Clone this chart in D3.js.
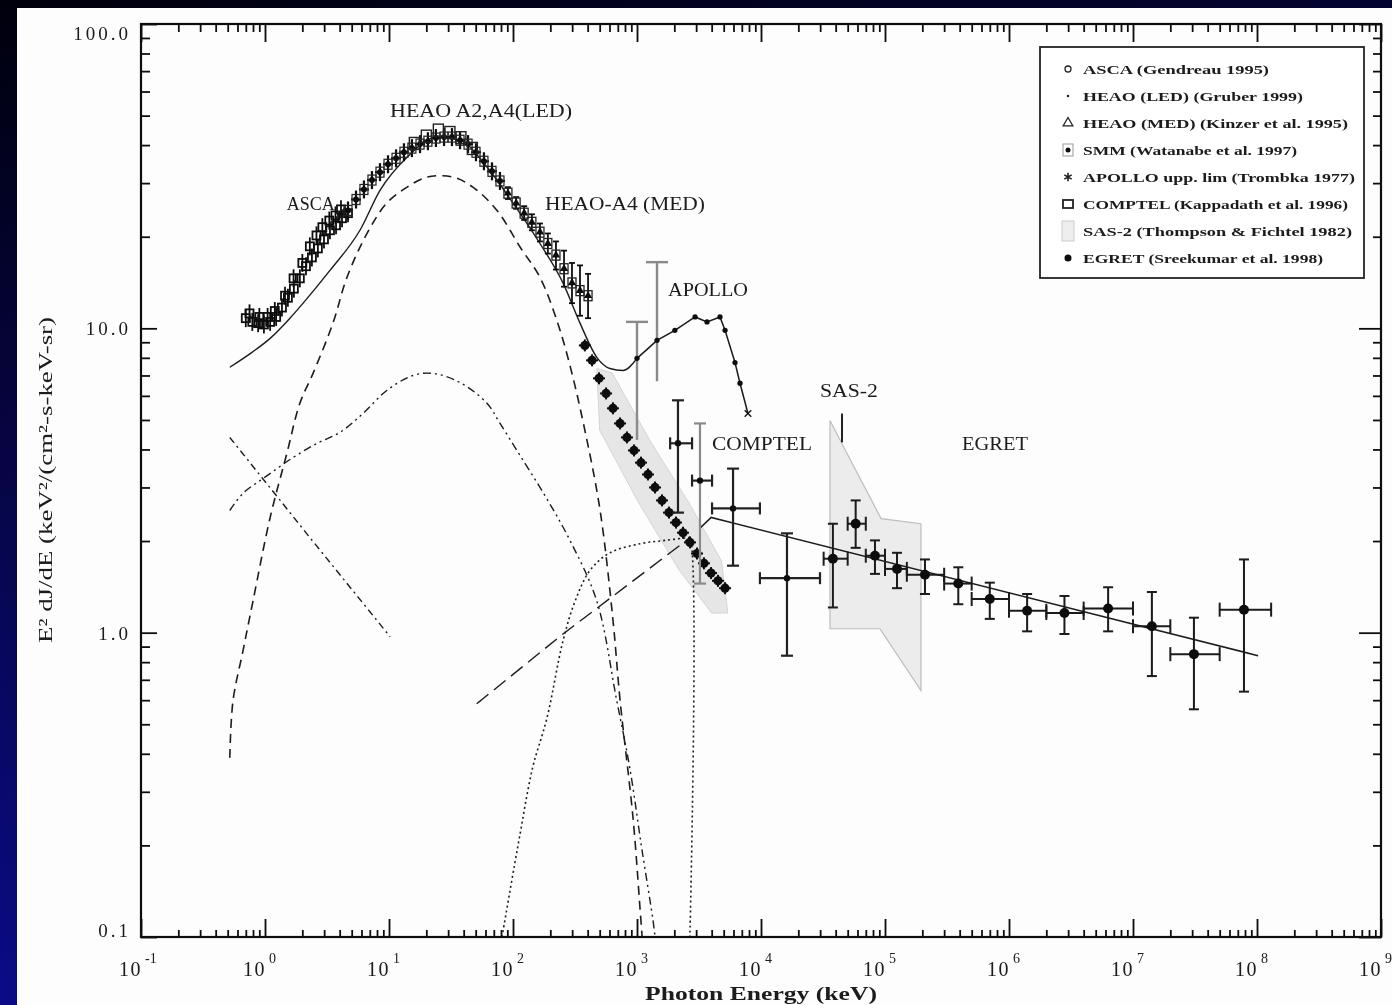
<!DOCTYPE html>
<html>
<head>
<meta charset="utf-8">
<script src="https://cdn.jsdelivr.net/npm/d3@7"></script>
<style>
  html, body { margin: 0; padding: 0; background: #000; }
  svg text { font-family: "Liberation Serif", "DejaVu Serif", serif; fill: #1a1a1a; }
</style>
</head>
<body>
<div id="chart"></div>
<script>
// ---- axis ticks / labels ----
const xMajor = [1e-1, 1e0, 1e1, 1e2, 1e3, 1e4, 1e5, 1e6, 1e7, 1e8, 1e9];
const xMajorExp = ['-1', '0', '1', '2', '3', '4', '5', '6', '7', '8', '9'];
const yMajor = [0.1, 1, 10, 100];
const yMajorLabels = ['0.1', '1.0', '10.0', '100.0'];

// ---- data (E in keV, E^2 dJ/dE) ----
const ascaE = [0.70, 0.79, 0.88, 0.98, 1.10, 1.23, 1.37, 1.53, 1.71, 1.91, 2.14, 2.39, 2.67, 2.99, 3.34, 3.74, 4.18, 4.67];
const ascaV = [10.8, 10.5, 10.4, 10.3, 10.5, 10.9, 11.7, 12.6, 13.5, 14.6, 16.0, 17.1, 18.3, 19.6, 21.0, 21.8, 23.0, 23.9];
const asca2E = [0.75, 0.90, 1.05, 1.20, 1.45, 1.70, 2.00, 2.30, 2.60, 2.90, 3.30, 3.70, 4.10];
const asca2V = [11.2, 10.9, 10.9, 11.4, 12.8, 14.6, 16.4, 18.6, 20.2, 21.5, 22.6, 23.5, 24.6];

const ledE = [4.67, 5.42, 6.28, 7.29, 8.46, 9.82, 11.4, 13.2, 15.3, 17.8, 20.6, 23.9, 27.8, 32.2, 37.4, 43.4, 50.3, 58.3, 67.7, 78.5];
const ledV = [24.4, 26.5, 28.6, 30.7, 32.6, 34.6, 36.2, 37.9, 39.1, 40.3, 41.2, 42.2, 42.5, 42.5, 41.5, 40.3, 37.9, 35.4, 32.8, 30.5];
const a2E = [16, 20, 25, 31, 38, 47];
const a2V = [40.5, 42.8, 44.8, 44.0, 42.3, 39.0];

const medE = [91, 106, 123, 142, 165, 191, 222, 258, 299, 347, 403];
const medV = [27.8, 25.8, 23.9, 22.3, 20.7, 19.0, 17.4, 15.7, 14.1, 13.3, 12.8];
const medLo = [26.6, 24.7, 22.7, 21.0, 19.3, 17.6, 15.6, 13.7, 12.1, 11.0, 10.8];
const medHi = [29.1, 27.0, 25.2, 23.7, 22.1, 20.5, 19.3, 18.0, 16.4, 16.1, 15.1];

const smmE = [380, 434, 494, 563, 640, 730, 830, 946, 1077, 1227, 1397, 1591, 1811, 2064, 2350, 2675, 3048, 3467, 3954, 4498, 5129];
const smmV = [8.79, 7.85, 6.85, 6.11, 5.46, 4.87, 4.38, 3.97, 3.62, 3.31, 3.00, 2.72, 2.48, 2.30, 2.13, 1.98, 1.82, 1.69, 1.57, 1.48, 1.40];
const smmBandE = [474, 630, 1270, 2700, 4800, 5400, 4000, 2200, 1060, 500];
const smmBandV = [7.38, 7.14, 4.28, 2.62, 1.72, 1.16, 1.16, 1.60, 2.62, 4.62];

const apolloE = [1000, 1450, 2020, 2940, 3670, 4670, 5130, 6170, 6770, 7850];
const apolloV = [7.97, 9.13, 9.85, 10.9, 10.5, 10.9, 9.85, 7.72, 6.60, 5.25];
const apolloBarE = [1000, 1450];
const apolloBarLo = [4.3, 6.7];
const apolloBarHi = [10.5, 16.5];

const compE = [2140, 3220, 5950, 16200];
const compV = [4.19, 3.16, 2.56, 1.51];
const compLo = [2.48, 1.45, 1.66, 0.84];
const compHi = [5.80, 4.87, 3.46, 2.12];
const compELo = [1850, 2780, 4030, 9800];
const compEHi = [2780, 4030, 9800, 29900];

const sasE = [3.6e4, 4.85e4, 9.3e4, 1.95e5, 1.95e5, 9.1e4, 3.6e4];
const sasV = [4.98, 3.94, 2.37, 2.28, 0.645, 1.03, 1.03];
const sasTickE = 4.5e4, sasTickLo = 4.22, sasTickHi = 5.25;

const egretE = [3.8e4, 5.8e4, 8.3e4, 1.25e5, 2.1e5, 3.9e5, 7.0e5, 1.4e6, 2.8e6, 6.3e6, 1.42e7, 3.1e7, 7.85e7];
const egretV = [1.75, 2.28, 1.79, 1.62, 1.55, 1.45, 1.29, 1.18, 1.16, 1.20, 1.05, 0.85, 1.19];
const egretLo = [1.21, 1.90, 1.56, 1.40, 1.34, 1.24, 1.11, 1.01, 0.99, 1.01, 0.72, 0.56, 0.64];
const egretHi = [2.28, 2.72, 2.01, 1.83, 1.74, 1.64, 1.46, 1.34, 1.32, 1.41, 1.36, 1.12, 1.74];
const egretELo = [3.2e4, 5.0e4, 7.0e4, 1.0e5, 1.5e5, 3.0e5, 5.0e5, 1.0e6, 2.0e6, 4.0e6, 1.0e7, 2.0e7, 5.0e7];
const egretEHi = [5.0e4, 7.0e4, 1.0e5, 1.5e5, 3.0e5, 5.0e5, 1.0e6, 2.0e6, 4.0e6, 1.0e7, 2.0e7, 5.0e7, 1.3e8];

// model curves
const totalE = [0.52, 0.785, 1.10, 1.59, 2.03, 3.34, 5.83, 8.46, 14.0, 24.4, 37.3, 61.7, 100, 165, 253, 347, 474, 605, 770, 1000];
const totalV = [7.45, 8.34, 9.27, 10.8, 12.1, 15.5, 21.0, 28.4, 36.5, 42.5, 41.5, 33.9, 25.8, 19.0, 14.1, 10.4, 8.03, 7.38, 7.27, 7.97];
const bumpE = [0.52, 0.552, 0.665, 0.80, 1.10, 1.50, 1.91, 2.44, 3.53, 4.58, 6.65, 9.6, 14.0, 20.3, 32.8, 47.5, 74.3, 114, 165, 226, 288, 380, 504, 640, 730, 929, 1058, 1100];
const bumpV = [0.388, 0.597, 0.873, 1.27, 2.39, 3.88, 5.67, 7.11, 10.4, 14.7, 20.5, 25.8, 29.1, 31.4, 31.4, 29.1, 24.4, 18.5, 14.7, 10.6, 7.55, 4.62, 2.52, 1.10, 0.60, 0.246, 0.124, 0.1];
const reflE = [0.52, 0.665, 1.04, 1.68, 2.63, 4.02, 6.17, 9.6, 15.6, 22.6, 37.3, 61.7, 78.6, 114, 181, 288, 474, 687, 874, 1100, 1340, 1400];
const reflV = [2.52, 2.87, 3.28, 3.76, 4.19, 4.55, 5.25, 6.25, 7.0, 7.11, 6.64, 5.67, 4.87, 3.82, 2.82, 2.01, 1.27, 0.597, 0.36, 0.192, 0.115, 0.1];
const softE = [0.52, 2.31, 10.2];
const softV = [4.38, 2.05, 0.97];
const hardE = [51, 253, 2670];
const hardV = [0.584, 0.99, 2.05];
const nucE = [81.5, 114, 144, 188, 253, 317, 417, 605, 1060, 1690, 2560, 2670, 2670];
const nucV = [0.1, 0.218, 0.36, 0.525, 0.94, 1.27, 1.6, 1.83, 1.96, 2.01, 2.05, 2.05, 0.1];
const gammaE = [3200, 3960, 1.02e8];
const gammaV = [2.2, 2.39, 0.84];

const legendLabels = [
  'ASCA (Gendreau 1995)',
  'HEAO (LED) (Gruber 1999)',
  'HEAO (MED) (Kinzer et al. 1995)',
  'SMM (Watanabe et al. 1997)',
  'APOLLO upp. lim (Trombka 1977)',
  'COMPTEL (Kappadath et al. 1996)',
  'SAS-2 (Thompson & Fichtel 1982)',
  'EGRET (Sreekumar et al. 1998)'
];
const legendWidths = [186, 220, 265, 214, 272, 265, 269, 240];

const annotations = [
  { text: 'HEAO A2,A4(LED)', e: 10.2, v: 52.1, w: 182 },
  { text: 'ASCA', e: 1.5, v: 25.8, w: 48 },
  { text: 'HEAO-A4 (MED)', e: 181, v: 25.8, w: 160 },
  { text: 'APOLLO', e: 1778, v: 13.5, w: 80 },
  { text: 'COMPTEL', e: 4027, v: 4.19, w: 100 },
  { text: 'SAS-2', e: 2.99e4, v: 6.25, w: 58 },
  { text: 'EGRET', e: 4.18e5, v: 4.19, w: 66 }
];

// ---- layout ----
const W = 1392, H = 1005;
const plotL = 141, plotR = 1381, plotT = 24, plotB = 937;

const svg = d3.select('#chart').append('svg')
  .attr('width', W).attr('height', H)
  .attr('viewBox', `0 0 ${W} ${H}`);

const defs = svg.append('defs');
const grad = defs.append('linearGradient').attr('id', 'bg')
  .attr('x1', 0).attr('y1', 0).attr('x2', 0.3).attr('y2', 1);
grad.append('stop').attr('offset', '0%').attr('stop-color', '#00000c');
grad.append('stop').attr('offset', '100%').attr('stop-color', '#0c0c92');
defs.append('clipPath').attr('id', 'clip').append('rect')
  .attr('x', plotL).attr('y', plotT).attr('width', plotR - plotL).attr('height', plotB - plotT);
defs.append('filter').attr('id', 'soft').append('feGaussianBlur').attr('stdDeviation', 0.45);

svg.append('rect').attr('width', W).attr('height', H).attr('fill', 'url(#bg)');
svg.append('rect').attr('x', 17).attr('y', 8).attr('width', W - 17).attr('height', H - 8).attr('fill', '#fdfdfd');

const root = svg.append('g').attr('filter', 'url(#soft)');

const x = d3.scaleLog().domain([1e-1, 1e9]).range([plotL, plotR]);
const y = d3.scaleLog().domain([0.1, 100]).range([plotB, plotT]);

const isMajor = d => Math.abs(Math.log10(d) - Math.round(Math.log10(d))) < 1e-9;
const xTicks = [];
for (let k = -1; k <= 8; k++) for (let m = 1; m <= 9; m++) xTicks.push(m * Math.pow(10, k));
xTicks.push(1e9);
const yTicks = [];
for (let k = -1; k <= 1; k++) for (let m = 1; m <= 9; m++) yTicks.push(m * Math.pow(10, k));
yTicks.push(100);

// ---- shaded regions ----
const plot = root.append('g').attr('clip-path', 'url(#clip)');
const area = d3.line().x(d => x(d[0])).y(d => y(d[1]));

plot.append('path')
  .datum(smmBandE.map((e, i) => [e, smmBandV[i]]))
  .attr('d', d => area(d) + 'Z')
  .attr('fill', '#e6e6e6').attr('stroke', '#d4d4d4').attr('stroke-width', 1);

plot.append('path')
  .datum(sasE.map((e, i) => [e, sasV[i]]))
  .attr('d', d => area(d) + 'Z')
  .attr('fill', '#ececec').attr('stroke', '#bdbdbd').attr('stroke-width', 1.2);

// ---- model curves ----
function curve(E, V, dash, width, interp) {
  plot.append('path')
    .datum(E.map((e, i) => [e, V[i]]))
    .attr('d', d3.line().x(d => x(d[0])).y(d => y(d[1])).curve(interp || d3.curveCatmullRom))
    .attr('fill', 'none')
    .attr('stroke', '#1c1c1c')
    .attr('stroke-width', width)
    .attr('stroke-dasharray', dash);
}
curve(bumpE, bumpV, '9,6', 1.6);
curve(reflE, reflV, '8,4,2,4,2,4', 1.4);
curve(softE, softV, '7,4,2,4', 1.4, d3.curveLinear);
curve(hardE, hardV, '15,7', 1.4, d3.curveLinear);
curve(nucE, nucV, '2,3', 1.6);
curve(totalE, totalV, null, 1.4, d3.curveMonotoneX);
curve(gammaE, gammaV, null, 1.6, d3.curveLinear);

// ---- data points ----
const pts = root.append('g').attr('clip-path', 'url(#clip)');

function vbar(g, xe, lo, hi, cap, color, w) {
  g.append('line').attr('x1', x(xe)).attr('x2', x(xe)).attr('y1', y(lo)).attr('y2', y(hi))
    .attr('stroke', color).attr('stroke-width', w);
  if (cap) {
    [lo, hi].forEach(v => g.append('line')
      .attr('x1', x(xe) - cap).attr('x2', x(xe) + cap).attr('y1', y(v)).attr('y2', y(v))
      .attr('stroke', color).attr('stroke-width', w));
  }
}
function hbar(g, eLo, eHi, v, cap, color, w) {
  g.append('line').attr('x1', x(eLo)).attr('x2', x(eHi)).attr('y1', y(v)).attr('y2', y(v))
    .attr('stroke', color).attr('stroke-width', w);
  if (cap) {
    [eLo, eHi].forEach(e => g.append('line')
      .attr('x1', x(e)).attr('x2', x(e)).attr('y1', y(v) - cap).attr('y2', y(v) + cap)
      .attr('stroke', color).attr('stroke-width', w));
  }
}

// ASCA: open squares with short bars
[[ascaE, ascaV], [asca2E, asca2V]].forEach(([E, V]) => {
  const g = pts.append('g');
  E.forEach((e, i) => {
    g.append('line').attr('x1', x(e)).attr('x2', x(e)).attr('y1', y(V[i]) - 9).attr('y2', y(V[i]) + 9)
      .attr('stroke', '#111').attr('stroke-width', 1.8);
    g.append('rect').attr('x', x(e) - 4).attr('y', y(V[i]) - 4).attr('width', 8).attr('height', 8)
      .attr('fill', 'none').attr('stroke', '#111').attr('stroke-width', 1.8);
  });
});

// HEAO LED: small dots with bars
const gLed = pts.append('g');
ledE.forEach((e, i) => {
  gLed.append('line').attr('x1', x(e)).attr('x2', x(e)).attr('y1', y(ledV[i]) - 9).attr('y2', y(ledV[i]) + 9)
    .attr('stroke', '#111').attr('stroke-width', 2.2);
  gLed.append('line').attr('x1', x(e) - 5).attr('x2', x(e) + 5).attr('y1', y(ledV[i])).attr('y2', y(ledV[i]))
    .attr('stroke', '#111').attr('stroke-width', 2.2);
  gLed.append('rect').attr('x', x(e) - 4).attr('y', y(ledV[i]) - 5).attr('width', 8).attr('height', 10)
    .attr('fill', 'none').attr('stroke', '#222').attr('stroke-width', 1.2);
  gLed.append('circle').attr('cx', x(e)).attr('cy', y(ledV[i])).attr('r', 3).attr('fill', '#111');
});
a2E.forEach((e, i) => {
  gLed.append('rect').attr('x', x(e) - 5).attr('y', y(a2V[i]) - 6).attr('width', 10).attr('height', 12)
    .attr('fill', 'none').attr('stroke', '#222').attr('stroke-width', 1.4);
});

// HEAO MED: triangles with error bars
const gMed = pts.append('g');
medE.forEach((e, i) => {
  vbar(gMed, e, medLo[i], medHi[i], 3, '#111', 1.8);
  gMed.append('rect').attr('x', x(e) - 4).attr('y', y(medV[i]) - 5).attr('width', 8).attr('height', 10)
    .attr('fill', 'none').attr('stroke', '#222').attr('stroke-width', 1.3);
  gMed.append('path').attr('d', d3.symbol(d3.symbolTriangle, 30)())
    .attr('transform', `translate(${x(e)},${y(medV[i])})`)
    .attr('fill', '#111');
});

// SMM: filled dots inside small boxes (dense band)
const gSmm = pts.append('g');
smmE.forEach((e, i) => {
  gSmm.append('line').attr('x1', x(e) - 6).attr('x2', x(e) + 6).attr('y1', y(smmV[i])).attr('y2', y(smmV[i]))
    .attr('stroke', '#111').attr('stroke-width', 2);
  gSmm.append('line').attr('x1', x(e)).attr('x2', x(e)).attr('y1', y(smmV[i]) - 6).attr('y2', y(smmV[i]) + 6)
    .attr('stroke', '#111').attr('stroke-width', 2);
  gSmm.append('circle').attr('cx', x(e)).attr('cy', y(smmV[i])).attr('r', 4.6).attr('fill', '#111');
});

// APOLLO: grey upper-limit bars + connected points
const gApo = pts.append('g');
apolloBarE.forEach((e, i) => vbar(gApo, e, apolloBarLo[i], apolloBarHi[i], 0, '#8a8a8a', 2.4));
apolloBarE.forEach((e, i) => gApo.append('line')
  .attr('x1', x(e) - 11).attr('x2', x(e) + 11).attr('y1', y(apolloBarHi[i])).attr('y2', y(apolloBarHi[i]))
  .attr('stroke', '#8a8a8a').attr('stroke-width', 2.4));
gApo.append('path')
  .datum(apolloE.map((e, i) => [e, apolloV[i]]))
  .attr('d', d3.line().x(d => x(d[0])).y(d => y(d[1])))
  .attr('fill', 'none').attr('stroke', '#1a1a1a').attr('stroke-width', 1.5);
apolloE.forEach((e, i) => {
  const last = i === apolloE.length - 1;
  gApo.append('path').attr('d', d3.symbol(last ? d3.symbolTimes : d3.symbolCircle, last ? 30 : 22)())
    .attr('transform', `translate(${x(e)},${y(apolloV[i])})`)
    .attr('fill', '#111').attr('stroke', '#111').attr('stroke-width', last ? 1.3 : 0);
});

// COMPTEL
const gComp = pts.append('g');
compE.forEach((e, i) => {
  const col = i === 1 ? '#8a8a8a' : '#222';
  vbar(gComp, e, compLo[i], compHi[i], 6, col, 2.2);
  hbar(gComp, compELo[i], compEHi[i], compV[i], 6, '#222', 2.2);
  gComp.append('circle').attr('cx', x(e)).attr('cy', y(compV[i])).attr('r', 3.2).attr('fill', '#111');
});

// SAS-2 tick
vbar(pts, sasTickE, sasTickLo, sasTickHi, 0, '#222', 2);

// EGRET
const gEg = pts.append('g');
egretE.forEach((e, i) => {
  vbar(gEg, e, egretLo[i], egretHi[i], 5, '#1a1a1a', 2);
  hbar(gEg, egretELo[i], egretEHi[i], egretV[i], 7, '#1a1a1a', 2);
  gEg.append('circle').attr('cx', x(e)).attr('cy', y(egretV[i])).attr('r', 5).attr('fill', '#111');
});

// ---- axes (inward ticks on all four sides) ----
function styleAxis(g, sign, major, minor) {
  g.select('.domain').remove();
  g.selectAll('.tick line')
    .attr('stroke', '#111').attr('stroke-width', 1.8)
    .each(function (d) {
      const len = isMajor(d) ? major : minor;
      const el = d3.select(this);
      if (el.attr('x2') && +el.attr('x2') !== 0) el.attr('x2', sign * len);
      else el.attr('y2', sign * len);
    });
}
const axB = root.append('g').attr('transform', `translate(0,${plotB})`)
  .call(d3.axisBottom(x).tickValues(xTicks).tickSize(-7).tickFormat(''));
styleAxis(axB, -1, 18, 7);
const axT = root.append('g').attr('transform', `translate(0,${plotT})`)
  .call(d3.axisTop(x).tickValues(xTicks).tickSize(-7).tickFormat(''));
styleAxis(axT, 1, 18, 8);
const axL = root.append('g').attr('transform', `translate(${plotL},0)`)
  .call(d3.axisLeft(y).tickValues(yTicks).tickSize(-8).tickFormat(''));
styleAxis(axL, 1, 16, 9);
const axR = root.append('g').attr('transform', `translate(${plotR},0)`)
  .call(d3.axisRight(y).tickValues(yTicks).tickSize(-8).tickFormat(''));
styleAxis(axR, -1, 22, 8);

root.append('rect').attr('x', plotL).attr('y', plotT)
  .attr('width', plotR - plotL).attr('height', plotB - plotT)
  .attr('fill', 'none').attr('stroke', '#111').attr('stroke-width', 2.2);

// tick labels
const xl = root.append('g');
xMajor.forEach((d, i) => {
  xl.append('text').attr('x', x(d) + 1).attr('y', 976).attr('text-anchor', 'end')
    .style('font-size', '20px').style('letter-spacing', '1.5px').text('10');
  xl.append('text').attr('x', x(d) + 4).attr('y', 963).attr('text-anchor', 'start')
    .style('font-size', '14px').text(xMajorExp[i]);
});
const yl = root.append('g');
yMajor.forEach((d, i) => {
  const yy = Math.min(Math.max(y(d) + 7, 40), 937);
  yl.append('text').attr('x', 131).attr('y', yy).attr('text-anchor', 'end')
    .style('font-size', '19px').style('letter-spacing', '3px').text(yMajorLabels[i]);
});

// axis titles
root.append('text')
  .attr('transform', 'translate(52,480) rotate(-90)')
  .attr('text-anchor', 'middle')
  .attr('textLength', 326).attr('lengthAdjust', 'spacingAndGlyphs')
  .style('font-size', '19px')
  .text('E\u00B2 dJ/dE (keV\u00B2/(cm\u00B2-s-keV-sr)');
root.append('text')
  .attr('x', 761).attr('y', 1000).attr('text-anchor', 'middle')
  .attr('textLength', 232).attr('lengthAdjust', 'spacingAndGlyphs')
  .style('font-size', '19px').style('font-weight', 'bold')
  .text('Photon Energy (keV)');

// annotations
annotations.forEach(a => {
  root.append('text').attr('x', x(a.e)).attr('y', y(a.v) + 7)
    .attr('textLength', a.w).attr('lengthAdjust', 'spacingAndGlyphs')
    .style('font-size', '19px')
    .text(a.text);
});

// ---- legend ----
const lg = root.append('g');
lg.append('rect').attr('x', 1040).attr('y', 47).attr('width', 324).attr('height', 231)
  .attr('fill', '#fff').attr('stroke', '#222').attr('stroke-width', 1.8);
legendLabels.forEach((t, i) => {
  const cy = 69 + i * 27;
  const mx = 1068;
  lg.append('text').attr('x', 1083).attr('y', cy + 5)
    .attr('textLength', legendWidths[i]).attr('lengthAdjust', 'spacingAndGlyphs')
    .style('font-size', '13px').style('font-weight', 'bold')
    .text(t);
  const m = lg.append('g').attr('transform', `translate(${mx},${cy})`);
  if (i === 0) m.append('circle').attr('r', 3).attr('fill', 'none').attr('stroke', '#222').attr('stroke-width', 1.3);
  if (i === 1) m.append('circle').attr('r', 1.3).attr('fill', '#222');
  if (i === 2) m.append('path').attr('d', d3.symbol(d3.symbolTriangle, 40)()).attr('fill', 'none').attr('stroke', '#222').attr('stroke-width', 1.3);
  if (i === 3) {
    m.append('rect').attr('x', -5).attr('y', -6).attr('width', 10).attr('height', 12).attr('fill', 'none').attr('stroke', '#999');
    m.append('circle').attr('r', 2.5).attr('fill', '#111');
  }
  if (i === 4) m.append('path').attr('d', d3.symbol(d3.symbolAsterisk, 50)()).attr('stroke', '#222').attr('stroke-width', 1.6);
  if (i === 5) m.append('rect').attr('x', -5).attr('y', -4).attr('width', 10).attr('height', 8).attr('fill', 'none').attr('stroke', '#222').attr('stroke-width', 1.8);
  if (i === 6) m.append('rect').attr('x', -6).attr('y', -10).attr('width', 12).attr('height', 20).attr('fill', '#eee').attr('stroke', '#ccc');
  if (i === 7) m.append('circle').attr('r', 3.5).attr('fill', '#111');
});
</script>
</body>
</html>
